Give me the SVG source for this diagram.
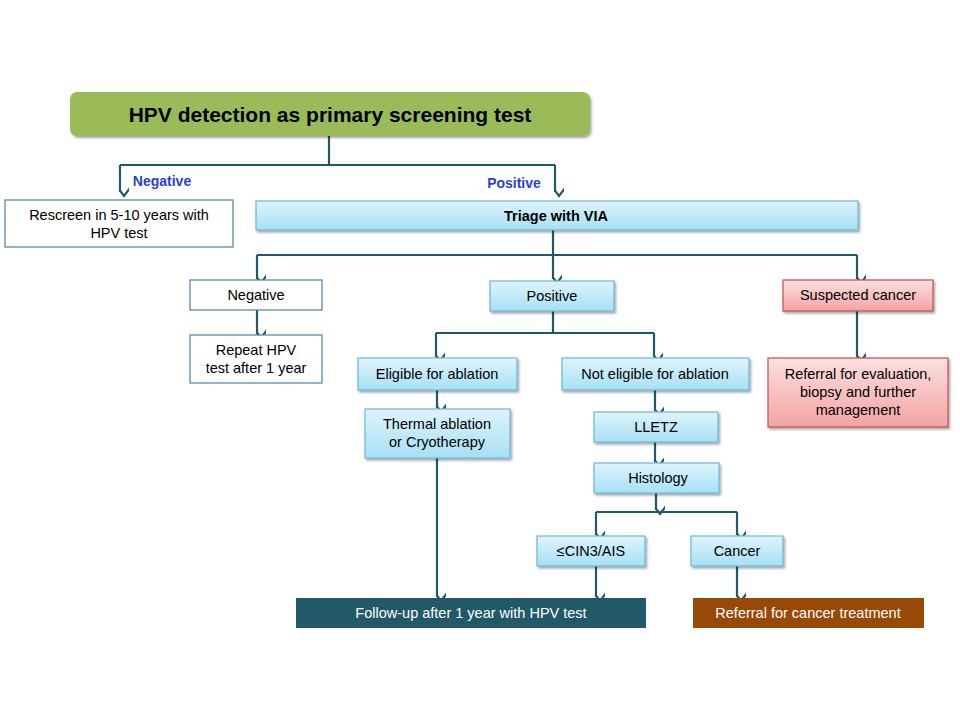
<svg xmlns="http://www.w3.org/2000/svg" width="960" height="720" viewBox="0 0 960 720">
<defs>
<linearGradient id="lb" x1="0" y1="0" x2="0" y2="1"><stop offset="0" stop-color="#dff4fc"/><stop offset="1" stop-color="#a6e0f5"/></linearGradient>
<linearGradient id="pk" x1="0" y1="0" x2="0" y2="1"><stop offset="0" stop-color="#fbe0e0"/><stop offset="1" stop-color="#f3a3a3"/></linearGradient>
<marker id="ar" viewBox="0 0 14 10" refX="7" refY="9" markerWidth="14" markerHeight="10" markerUnits="userSpaceOnUse" orient="auto-start-reverse">
<polyline points="1,1 7,9 13,1" fill="none" stroke="#215968" stroke-width="2.2" transform="rotate(-90 7 5)"/>
</marker>
<filter id="sh" x="-5%" y="-20%" width="110%" height="150%"><feDropShadow dx="1.5" dy="2" stdDeviation="1.2" flood-opacity="0.35"/></filter>
</defs>
<style>
text{font-family:"Liberation Sans",Arial,sans-serif;font-size:14.5px;fill:#000;text-anchor:middle}
.lb{fill:url(#lb);stroke:#6cb6d6;stroke-width:1.2;filter:url(#sh)}
.wh{fill:#fff;stroke:#4f7fa8;stroke-width:1.2}
.c{fill:none;stroke:#215968;stroke-width:2.2}
.lab{fill:#2a3fd6;font-weight:bold;font-size:14px}
</style>
<rect width="960" height="720" fill="#fff"/>
<g id="connectors">
<path class="c" d="M329 136V165M120 165H555"/>
<path class="c" d="M120 165V192" marker-end="url(#ar)"/>
<path class="c" d="M555 165V192" marker-end="url(#ar)"/>
<path class="c" d="M553 230V255M257 255H857"/>
<path class="c" d="M257 255V279" marker-end="url(#ar)"/>
<path class="c" d="M553 255V279" marker-end="url(#ar)"/>
<path class="c" d="M857 255V279" marker-end="url(#ar)"/>
<path class="c" d="M257 310V334" marker-end="url(#ar)"/>
<path class="c" d="M553 311V333M436 333H654"/>
<path class="c" d="M436 333V357" marker-end="url(#ar)"/>
<path class="c" d="M654 333V357" marker-end="url(#ar)"/>
<path class="c" d="M857 311V357" marker-end="url(#ar)"/>
<path class="c" d="M437 390V408" marker-end="url(#ar)"/>
<path class="c" d="M655 390V411" marker-end="url(#ar)"/>
<path class="c" d="M655 442V462" marker-end="url(#ar)"/>
<path class="c" d="M656 493V510" marker-end="url(#ar)"/>
<path class="c" d="M596 512H737"/>
<path class="c" d="M596 512V535" marker-end="url(#ar)"/>
<path class="c" d="M737 512V535" marker-end="url(#ar)"/>
<path class="c" d="M437 458V597" marker-end="url(#ar)"/>
<path class="c" d="M596 566V597" marker-end="url(#ar)"/>
<path class="c" d="M737 566V597" marker-end="url(#ar)"/>
<text class="lab" x="162" y="186">Negative</text>
<text class="lab" x="514" y="188">Positive</text>
</g>
<g id="top"><rect x="70" y="92" width="520" height="44" rx="7" fill="#9bbb59" filter="url(#sh)"/><text x="330" y="122" style="font-size:21px;font-weight:bold">HPV  detection as primary  screening test</text></g>
<g id="rescreen"><rect class="wh" x="5" y="200" width="228" height="47"/><text x="119" y="220">Rescreen in 5-10 years with</text><text x="119" y="238">HPV  test</text></g>
<g id="triage"><rect class="lb" x="256" y="201" width="602" height="29"/><text x="556" y="221" style="font-weight:bold">Triage with VIA</text></g>
<g id="neg"><rect class="wh" x="190" y="280" width="132" height="30"/><text x="256" y="300">Negative</text></g>
<g id="pos"><rect class="lb" x="490" y="281" width="124" height="30"/><text x="552" y="301">Positive</text></g>
<g id="susp"><rect x="783" y="280" width="150" height="31" fill="url(#pk)" stroke="#c0504d" stroke-width="1.2" filter="url(#sh)"/><text x="858" y="300">Suspected cancer</text></g>
<g id="repeat"><rect class="wh" x="190" y="335" width="132" height="48"/><text x="256" y="355">Repeat HPV</text><text x="256" y="373">test after 1 year</text></g>
<g id="elig"><rect class="lb" x="358" y="358" width="159" height="32"/><text x="437" y="379">Eligible for ablation</text></g>
<g id="notelig"><rect class="lb" x="562" y="358" width="187" height="32"/><text x="655" y="379">Not eligible for ablation</text></g>
<g id="refeval"><rect x="768" y="358" width="180" height="69" fill="url(#pk)" stroke="#c0504d" stroke-width="1.2" filter="url(#sh)"/><text x="858" y="379">Referral for evaluation,</text><text x="858" y="397">biopsy and further</text><text x="858" y="415">management</text></g>
<g id="thermal"><rect class="lb" x="365" y="409" width="145" height="49"/><text x="437" y="429">Thermal ablation</text><text x="437" y="447">or Cryotherapy</text></g>
<g id="lletz"><rect class="lb" x="594" y="412" width="124" height="30"/><text x="656" y="432">LLETZ</text></g>
<g id="hist"><rect class="lb" x="594" y="463" width="125" height="30"/><text x="658" y="483">Histology</text></g>
<g id="cin"><rect class="lb" x="537" y="536" width="108" height="30"/><text x="591" y="556">≤CIN3/AIS</text></g>
<g id="cancer"><rect class="lb" x="691" y="536" width="92" height="30"/><text x="737" y="556">Cancer</text></g>
<g id="follow"><rect x="296" y="598" width="350" height="30" fill="#215968"/><text x="471" y="618" style="fill:#fff">Follow-up after 1 year with HPV  test</text></g>
<g id="refcan"><rect x="693" y="598" width="231" height="30" fill="#984807"/><text x="808" y="618" style="fill:#fff">Referral for cancer treatment</text></g>
</svg>
